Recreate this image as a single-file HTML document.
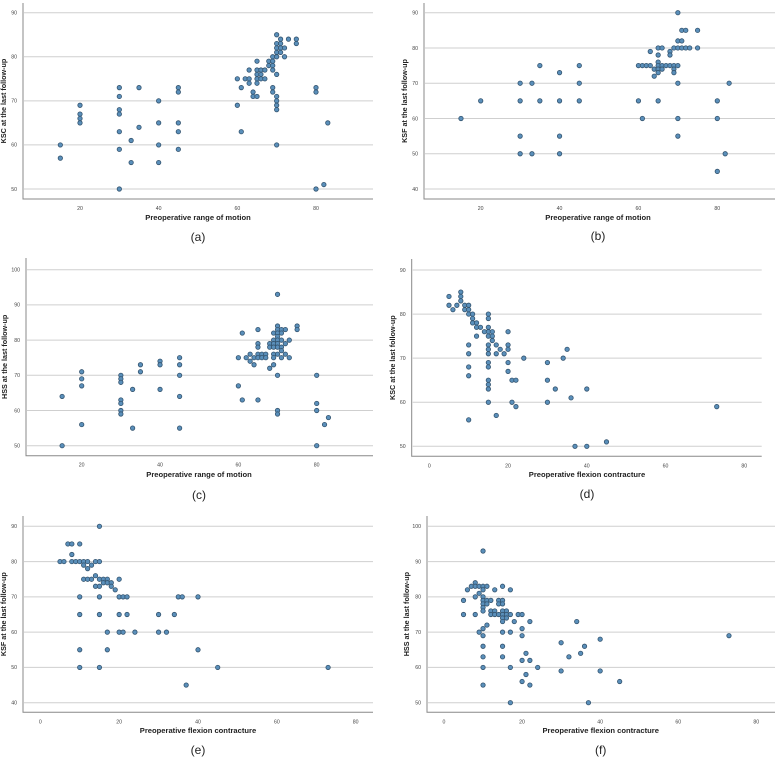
<!DOCTYPE html>
<html><head><meta charset="utf-8"><style>
html,body{margin:0;padding:0;background:#fff;}
svg{display:block;font-family:"Liberation Sans",sans-serif;}
</style></head><body>
<svg id="fig" width="779" height="757" viewBox="0 0 779 757"></svg>
<script>
const xTicksROM=[20,40,60,80];
const xTicksFC=[0,20,40,60,80];
const yTicksA=[50,60,70,80,90];
const yTicksB=[40,50,60,70,80,90];
const yTicksC=[50,60,70,80,90,100];
const aX=[15,15,20,20,20,20,30,30,30,30,30,30,30,33,33,35,35,40,40,40,40,45,45,45,45,45,60,60,61,61,62,63,63,63,64,64,65,65,65,65,65,65,66,66,66,67,67,68,68,69,69,69,69,69,69,70,70,70,70,70,70,70,70,70,70,70,71,71,71,71,72,72,73,75,75,80,80,80,82,83];
const aY=[60,57,69,67,66,65,73,71,68,67,63,59,50,61,56,73,64,70,65,60,56,73,72,65,63,59,75,69,73,63,75,77,75,74,72,71,79,77,76,75,74,71,77,76,75,77,75,79,78,80,79,78,77,73,72,85,83,82,81,80,76,71,70,69,68,60,84,83,82,81,82,80,84,84,83,73,72,50,51,65];
const bX=[15,20,30,30,30,30,33,33,35,35,40,40,40,40,45,45,45,60,60,61,61,62,63,63,64,64,65,65,65,65,65,65,65,66,66,66,67,68,68,68,69,69,69,69,70,70,70,70,70,70,70,71,71,71,72,72,73,75,75,80,80,80,82,83];
const bY=[60,65,70,65,55,50,70,50,75,65,73,65,55,50,75,70,65,75,65,75,60,75,79,75,74,72,80,78,76,75,74,73,65,80,75,74,75,79,78,75,80,75,74,73,90,82,80,75,70,60,55,85,82,80,85,80,80,85,80,65,60,45,50,70];
const cX=[15,15,20,20,20,20,30,30,30,30,30,30,30,33,33,35,35,40,40,40,45,45,45,45,45,60,60,61,61,62,63,63,64,64,65,65,65,65,65,65,66,66,67,67,68,68,68,69,69,69,69,69,69,69,70,70,70,70,70,70,70,70,70,70,70,70,71,71,71,71,71,71,72,72,72,73,73,75,75,80,80,80,80,82,83];
const cY=[64,50,71,69,67,56,70,69,68,63,62,60,59,66,55,73,71,74,73,66,75,73,70,64,55,75,67,82,63,75,76,74,75,73,83,79,78,76,75,63,76,75,76,75,79,78,72,82,80,79,78,76,75,73,93,84,83,82,81,80,79,78,76,70,60,59,83,82,80,78,77,75,83,79,76,80,75,84,83,70,62,60,50,56,58];
const dX=[5,5,6,7,8,8,8,9,9,10,10,10,10,10,10,10,10,11,11,11,12,12,12,13,14,15,15,15,15,15,15,15,15,15,15,15,15,15,15,16,16,16,17,17,17,18,19,20,20,20,20,20,21,21,22,22,24,30,30,30,32,34,35,36,37,40,40,45,73];
const dY=[84,82,81,82,85,84,83,82,81,82,81,80,73,71,68,66,56,80,79,78,78,77,75,77,76,80,79,77,76,75,73,72,71,69,68,65,64,63,60,76,75,74,73,71,57,72,71,76,73,72,69,67,65,60,65,59,70,69,65,60,63,70,72,61,50,63,50,51,59];
const eX=[5,6,7,8,8,8,9,10,10,10,10,10,10,11,11,11,12,12,12,13,13,14,14,14,15,15,15,15,15,15,15,16,16,17,17,17,17,18,18,19,20,20,20,20,21,21,22,22,24,30,30,32,34,35,36,37,40,40,45,73];
const eY=[80,80,85,85,82,80,80,85,80,70,65,55,50,80,79,75,80,78,75,79,75,80,76,73,90,80,75,73,70,65,50,75,74,75,74,60,55,74,73,72,75,70,65,60,70,60,70,65,60,65,60,60,65,70,70,45,70,55,50,50];
const fX=[5,5,6,7,8,8,8,8,9,9,9,10,10,10,10,10,10,10,10,10,10,10,10,10,10,11,11,11,11,12,12,12,13,13,13,14,14,14,15,15,15,15,15,15,15,15,15,15,16,16,16,17,17,17,17,17,18,19,20,20,20,20,20,21,21,22,22,22,24,30,30,32,34,35,36,40,40,37,45,73];
const fY=[79,75,82,83,84,83,80,75,83,81,70,83,82,80,79,78,77,76,71,69,66,63,60,55,93,83,79,78,72,79,76,75,82,76,75,79,78,75,83,79,78,76,75,74,73,70,66,63,76,75,74,82,75,70,60,50,73,75,75,71,69,62,56,64,58,73,62,55,60,67,59,63,73,64,66,68,59,50,56,69];

const NS='http://www.w3.org/2000/svg';
const svg=document.getElementById('fig');
function mk(tag,attrs,parent){const e=document.createElementNS(NS,tag);for(const k in attrs)e.setAttribute(k,attrs[k]);(parent||svg).appendChild(e);return e;}

function panel(p){
  const g=mk('g',{});
  
  
  const sx=v=>p.x0+(v-p.xv0)*(p.x1-p.x0)/(p.xv1-p.xv0);
  const sy=v=>p.y0+(v-p.yv0)*(p.y1-p.y0)/(p.yv1-p.yv0);
  p.yt.forEach(t=>{
    const l=mk('line',{x1:p.left+1,x2:p.right,y1:sy(t),y2:sy(t),stroke:'#cfcfcf','stroke-width':1},g);
    
    
    const tx=mk('text',{x:p.left-6,y:sy(t)+1.8,'font-size':5.2,fill:'#444','text-anchor':'end'},g);
    tx.textContent=t;
    
    
  });
  p.xt.forEach(t=>{
    const tx=mk('text',{x:sx(t),y:p.bottom+11,'font-size':5.2,fill:'#444','text-anchor':'middle'},g);
    tx.textContent=t;
    
    
  });
  const ax=mk('path',{d:`M${p.left},${p.top} V${p.bottom} H${p.right}`,fill:'none',stroke:'#888','stroke-width':1},g);
  
  
  p.xs.forEach((v,i)=>{
    const c=mk('circle',{cx:sx(v),cy:sy(p.ys[i]),r:2.2,fill:'#5a8fba',stroke:'#33536e','stroke-width':0.8},g);
    
    
  });
  const yl=mk('text',{x:0,y:0,'font-size':7.2,'font-weight':'bold',fill:'#222','text-anchor':'middle',transform:`translate(${p.ylx},${(p.top+p.bottom)/2}) rotate(-90)`},g);
  yl.textContent=p.ylabel;
  
  
  const xl=mk('text',{x:p.xlx,y:p.xly,'font-size':7.6,'font-weight':'bold',fill:'#222','text-anchor':'middle'},g);
  xl.textContent=p.xlabel;
  
  
  const cp=mk('text',{x:p.xlx,y:p.cy,'font-size':12,fill:'#222','text-anchor':'middle'},g);
  cp.textContent='('+p.id+')';
  
  
}
const ROM='Preoperative range of motion', FC='Preoperative flexion contracture';
panel({id:'a',left:23,right:373,top:3,bottom:199,x0:80,x1:316,xv0:20,xv1:80,y0:12.7,y1:189,yv0:90,yv1:50,xt:xTicksROM,yt:yTicksA,xs:aX,ys:aY,ylabel:'KSC at  the last follow-up',ylx:6,xlabel:ROM,xlx:198,xly:220,cy:241});
panel({id:'b',left:424,right:775,top:3,bottom:199,x0:480.7,x1:717.3,xv0:20,xv1:80,y0:12.7,y1:189,yv0:90,yv1:40,xt:xTicksROM,yt:yTicksB,xs:bX,ys:bY,ylabel:'KSF at  the last follow-up',ylx:407,xlabel:ROM,xlx:598,xly:220,cy:240});
panel({id:'c',left:26,right:373,top:258,bottom:455.7,x0:81.7,x1:316.7,xv0:20,xv1:80,y0:269.7,y1:445.7,yv0:100,yv1:50,xt:xTicksROM,yt:yTicksC,xs:cX,ys:cY,ylabel:'HSS at  the last follow-up',ylx:7,xlabel:ROM,xlx:199,xly:477,cy:499});
panel({id:'d',left:411.7,right:761.7,top:259,bottom:456.3,x0:429.3,x1:744.3,xv0:0,xv1:80,y0:270,y1:446.3,yv0:90,yv1:50,xt:xTicksFC,yt:yTicksA,xs:dX,ys:dY,ylabel:'KSC at  the last follow-up',ylx:395,xlabel:FC,xlx:587,xly:477,cy:498});
panel({id:'e',left:23,right:373,top:516,bottom:712.3,x0:40.3,x1:355.7,xv0:0,xv1:80,y0:526.3,y1:702.7,yv0:90,yv1:40,xt:xTicksFC,yt:yTicksB,xs:eX,ys:eY,ylabel:'KSF at  the last follow-up',ylx:6,xlabel:FC,xlx:198,xly:733,cy:754});
panel({id:'f',left:427,right:775,top:516,bottom:712.3,x0:444,x1:756.3,xv0:0,xv1:80,y0:526.3,y1:702.7,yv0:100,yv1:50,xt:xTicksFC,yt:yTicksC,xs:fX,ys:fY,ylabel:'HSS at  the last follow-up',ylx:409,xlabel:FC,xlx:600.7,xly:733,cy:754});
</script>
</body></html>
